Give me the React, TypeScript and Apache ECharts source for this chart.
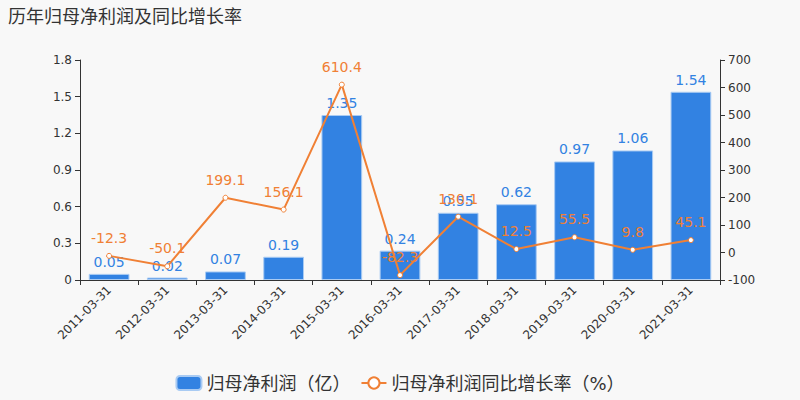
import React, { useEffect, useRef } from "react";
import * as echarts from "echarts";

const categories = [
  "2011-03-31", "2012-03-31", "2013-03-31", "2014-03-31", "2015-03-31", "2016-03-31",
  "2017-03-31", "2018-03-31", "2019-03-31", "2020-03-31", "2021-03-31",
];
const profit = [0.05, 0.02, 0.07, 0.19, 1.35, 0.24, 0.55, 0.62, 0.97, 1.06, 1.54];
const growth = [-12.3, -50.1, 199.1, 156.1, 610.4, -82.3, 130.1, 12.5, 55.5, 9.8, 45.1];

const BLUE = "#3282e2";
const ORANGE = "#f08035";
const FONT = "'DejaVu Sans', 'Noto Sans CJK SC', sans-serif";

export default function App() {
  const ref = useRef<HTMLDivElement>(null);
  useEffect(() => {
    if (!ref.current) return;
    const chart = echarts.init(ref.current, undefined, { renderer: "svg" });
    chart.setOption({
      animation: false,
      backgroundColor: "#f8f8f8",
      textStyle: { fontFamily: FONT },
      title: {
        text: "历年归母净利润及同比增长率",
        left: 3,
        top: 2,
        textStyle: { fontSize: 18, fontWeight: "normal", color: "#333", fontFamily: FONT },
      },
      legend: {
        bottom: 3,
        left: "center",
        itemWidth: 25,
        itemHeight: 14,
        itemGap: 10,
        textStyle: { fontSize: 18, color: "#333", fontFamily: FONT },
        data: [
          { name: "归母净利润（亿）", icon: "roundRect" },
          { name: "归母净利润同比增长率（%）" },
        ],
      },
      grid: { left: 80, right: 80, top: 60, bottom: 120 },
      xAxis: {
        type: "category",
        data: categories,
        axisLine: { lineStyle: { color: "#333" } },
        axisTick: { show: true, alignWithLabel: false, lineStyle: { color: "#333" } },
        axisLabel: { rotate: 45, color: "#333", fontSize: 12, interval: 0 },
      },
      yAxis: [
        {
          type: "value",
          min: 0,
          max: 1.8,
          interval: 0.3,
          splitLine: { show: false },
          axisLine: { show: true, lineStyle: { color: "#333" } },
          axisTick: { show: true, lineStyle: { color: "#333" } },
          axisLabel: { color: "#333", fontSize: 12 },
        },
        {
          type: "value",
          min: -100,
          max: 700,
          interval: 100,
          splitLine: { show: false },
          axisLine: { show: true, lineStyle: { color: "#333" } },
          axisTick: { show: true, lineStyle: { color: "#333" } },
          axisLabel: { color: "#333", fontSize: 12 },
        },
      ],
      series: [
        {
          name: "归母净利润（亿）",
          type: "bar",
          data: profit,
          barWidth: "70%",
          itemStyle: { color: BLUE, borderColor: "#a9cbf3", borderWidth: 1 },
          label: { show: true, position: "top", color: BLUE, fontSize: 14 },
        },
        {
          name: "归母净利润同比增长率（%）",
          type: "line",
          yAxisIndex: 1,
          data: growth,
          symbol: "circle",
          symbolSize: 5,
          lineStyle: { color: ORANGE, width: 2 },
          itemStyle: { color: "#fff", borderColor: ORANGE, borderWidth: 1 },
          label: { show: true, position: "top", color: ORANGE, fontSize: 14, distance: 8 },
        },
      ],
    });
    return () => chart.dispose();
  }, []);
  return (
    <div
      ref={ref}
      style={{ position: "absolute", left: 0, top: 0, width: 800, height: 400 }}
    />
  );
}
